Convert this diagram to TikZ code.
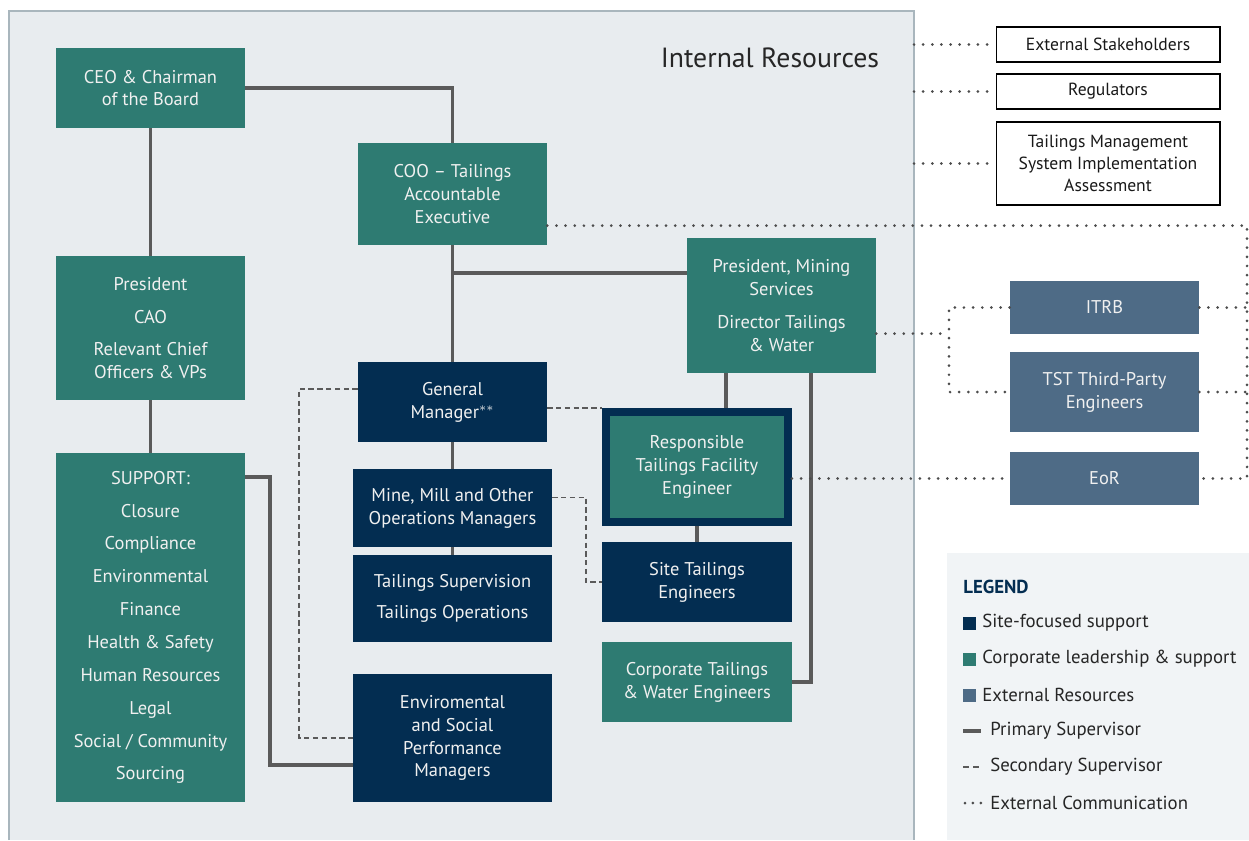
\documentclass[tikz,border=0pt]{standalone}
\usepackage{fontspec}
\setmainfont{PT Sans}
\definecolor{corp}{HTML}{2E7B72}
\definecolor{site}{HTML}{032D51}
\definecolor{extres}{HTML}{4E6B86}
\definecolor{panel}{HTML}{E8ECEF}
\definecolor{panelline}{HTML}{A9B6BD}
\definecolor{legbg}{HTML}{F1F4F6}
\definecolor{linegray}{HTML}{5A5A5A}
\tikzset{
  box/.style={rectangle, inner sep=0pt, align=center, text=white!94!black,
    font=\fontsize{10.5}{13}\selectfont, minimum width=3.78cm},
  corpbox/.style={box, fill=corp},
  sitebox/.style={box, fill=site},
  extbox/.style={box, fill=extres},
  stakebox/.style={box, fill=white, draw=black, line width=0.6pt, text=black!90,
    font=\fontsize{10}{12.5}\selectfont, minimum width=4.48cm},
  legtext/.style={anchor=west, inner sep=0pt, text=black!85, font=\fontsize{10.7}{12}\selectfont},
  primary/.style={draw=linegray, line width=2.2pt},
  secondary/.style={draw=linegray, line width=0.7pt, dash pattern=on 3pt off 2pt},
  extcom/.style={draw=black!70, line width=1.7pt, line cap=round, dash pattern=on 0pt off 5.2pt}
}
\begin{document}
\begin{tikzpicture}[x=0.02cm, y=-0.02cm]
\useasboundingbox (0,0) rectangle (1249,840);
% panels
\fill[panel] (9,11) rectangle (914,840);
\draw[panelline, line width=1.2pt] (9,840) |- (914,11) -- (914,840);
\fill[legbg] (947,553) rectangle (1249,840);
\node[font=\fontsize{15.8}{18}\selectfont, text=black!85] (title) at (770,58) {Internal Resources};

% corporate column
\draw (150.5,88) node[corpbox, minimum height=1.6cm](ceo){CEO \& Chairman\\of the Board}
      (150.5,328) node[corpbox, minimum height=2.88cm](pres){President\\[5.7pt]CAO\\[5.7pt]Relevant Chief\\Officers \& VPs}
      (150.5,627.5) node[corpbox, minimum height=6.98cm](supp){SUPPORT:\\[5.7pt]Closure\\[5.7pt]Compliance\\[5.7pt]Environmental\\[5.7pt]Finance\\[5.7pt]Health \& Safety\\[5.7pt]Human Resources\\[5.7pt]Legal\\[5.7pt]Social / Community\\[5.7pt]Sourcing};

% site column
\draw (452.5,194) node[corpbox, minimum height=2.04cm](coo){COO -- Tailings\\Accountable\\Executive}
      (452.5,402) node[sitebox, minimum height=1.6cm](gm){General\\Manager$^{**}$}
      (452.5,508) node[sitebox, minimum width=3.98cm, minimum height=1.56cm](mine){Mine, Mill and Other\\Operations Managers}
      (452.5,598.5) node[sitebox, minimum width=3.98cm, minimum height=1.74cm](tsup){Tailings Supervision\\[5pt]Tailings Operations}
      (452.5,738) node[sitebox, minimum width=3.98cm, minimum height=2.56cm](esm){Enviromental\\and Social\\Performance\\Managers};

% tailings column
\draw (781.5,305.5) node[corpbox, minimum height=2.7cm](pms){President, Mining\\Services\\[5.7pt]Director Tailings\\\& Water}
      (697,467) node[corpbox, draw=site, line width=0.16cm, minimum width=3.64cm, minimum height=2.2cm](rtfe){Responsible\\Tailings Facility\\Engineer}
      (697,582) node[sitebox, minimum width=3.8cm, minimum height=1.6cm](site){Site Tailings\\Engineers}
      (697,682) node[corpbox, minimum width=3.8cm, minimum height=1.6cm](ctw){Corporate Tailings\\\& Water Engineers};

% external
\draw (1108,44.5) node[stakebox, minimum height=0.7cm](exs){External Stakeholders}
      (1108,91.5) node[stakebox, minimum height=0.7cm](reg){Regulators}
      (1108,163.5) node[stakebox, minimum height=1.66cm](tms){Tailings Management\\System Implementation\\Assessment}
      (1104.5,307.5) node[extbox, minimum height=1.06cm](itrb){ITRB}
      (1104.5,392) node[extbox, minimum height=1.6cm](tst){TST Third-Party\\Engineers}
      (1104.5,478.5) node[extbox, minimum height=1.06cm](eor){EoR};

\coordinate (sj) at (270,765);
\coordinate (gj) at (299,738);
\coordinate (cj) at (452.5,273);
\coordinate (pj) at (726,0);
\coordinate (qj) at (811,0);
\coordinate (mj) at (586,0);
\coordinate (pr) at (914,0);
\coordinate (rx) at (1247,0);
\coordinate (bx) at (949,0);

% primary supervisor
\path[primary]
    (ceo) edge (pres)
    (pres) edge (supp)
    (coo) edge (gm)
    (gm) edge (mine)
    (mine) edge (tsup)
    (rtfe) edge (site)
    (cj) edge (cj -| pms.west)
    (pj |- pms.south) edge (pj |- rtfe.north);
\draw[primary] (ceo.east) -| (coo.north);
\draw[primary] ([yshift=-13.6pt]supp.north east) -| (sj) -- (sj -| esm.west);
\draw[primary] (qj |- pms.south) |- (ctw.east);

% secondary supervisor
\draw[secondary] ([yshift=7.4pt]gm.west) -| (gj) -- (esm.west);
\draw[secondary] (gm.east |- rtfe.north west) -- (rtfe.north west);
\draw[secondary] ([yshift=6.2pt]mine.east) -| (mj |- site.west) -- (site.west);

% external communication
\path[extcom]
    (pr |- exs.west) edge (exs.west)
    (pr |- reg.west) edge (reg.west)
    (pr |- tms.west) edge (tms.west)
    (itrb.east) edge (rx |- itrb.east)
    (tst.east) edge (rx |- tst.east)
    (rtfe.east |- eor.west) edge (eor.west);
\draw[extcom] ([yshift=-18pt]coo.east) -| (rx |- eor.east) -- (eor.east);
\draw[extcom] ([yshift=-16pt]pms.east) -- ++(73,0);
\draw[extcom] (itrb.west) -| (bx |- tst.west) -- (tst.west);

% legend
\node[anchor=west, inner sep=0pt, text=site, font=\bfseries\fontsize{10.7}{12}\selectfont] (leg) at (963,587) {LEGEND};
\fill[site] (963,617) rectangle (976,630);
\node[legtext] (l1) at (982,623) {Site-focused support};
\fill[corp] (963,653) rectangle (976,666);
\node[legtext] (l2) at (982,659) {Corporate leadership \& support};
\fill[extres] (963,689) rectangle (976,702);
\node[legtext] (l3) at (982,695) {External Resources};
\draw[primary] (963,731) -- (981,731);
\node[legtext] (l4) at (990,731) {Primary Supervisor};
\draw[secondary, dash pattern=on 3.4pt off 2.3pt] (963,767) -- (981,767);
\node[legtext] (l5) at (990,767) {Secondary Supervisor};
\draw[extcom, dash pattern=on 0pt off 4.5pt] (965,803) -- (982,803);
\node[legtext] (l6) at (990,803) {External Communication};
\end{tikzpicture}
\end{document}
